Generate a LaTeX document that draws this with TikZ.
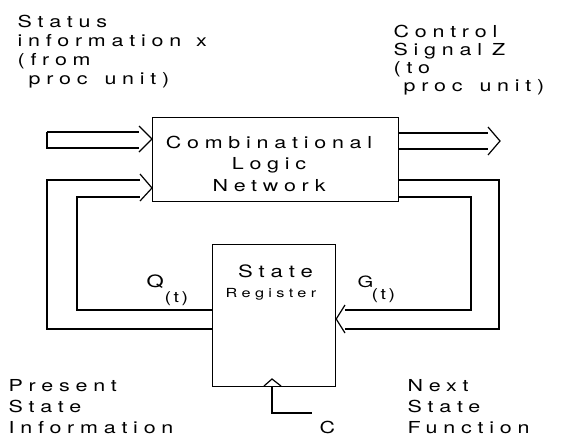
\documentclass[tikz,border=0pt]{standalone}
\usepackage{fontspec}
\usepackage{tikz}
\usetikzlibrary{calc,positioning}
\newfontfamily\plotfont[LetterSpace=35,FakeStretch=1.3]{TeX Gyre Heros}
\newcommand\wsp{\hspace{17pt}}

\begin{document}
\begin{tikzpicture}[x=1pt,y=-1pt,line width=1.2pt,
    block/.style={draw,anchor=north west,inner sep=0pt},
    txt/.style={inner sep=0pt,anchor=base west},
    toplbl/.style={anchor=north west,align=left,inner sep=0pt,
      font=\plotfont\fontsize{16.5}{19}\selectfont},
    botlbl/.style={anchor=north west,align=left,inner sep=0pt,
      font=\plotfont\fontsize{16.5}{21}\selectfont},
    big/.style={font=\plotfont\fontsize{16.5}{21.5}\selectfont}]
    \useasboundingbox (0,0) rectangle (570,437);
    % boxes
    \node[block,minimum width=246pt,minimum height=84pt] (cln) at (152,117) {};
    \node[big,inner sep=0pt,align=center,anchor=north] (clntext) at (269,135.5) {Combinational\\Logic\\Network};
    \node[block,minimum width=123pt,minimum height=142pt] (sr) at (212,244) {};
    \node[txt,anchor=base,font=\plotfont\fontsize{17}{18}\selectfont] (srname) at (275.5,277) {State};
    \node[txt,anchor=base,font=\plotfont\fontsize{12.5}{14}\selectfont] (srreg) at (271,297) {Register};
    % free ends of the connectors
    \coordinate (statin) at (47,132);
    \coordinate (ctrlout) at (500,141);
    \coordinate (qout) at (47,180);
    \coordinate (qin) at (77,197);
    \coordinate (gout) at (499,180);
    \coordinate (gin) at (471,197);
    % status information in
    \draw (statin) -- (139,132) (statin) -- (47,148) -- (139,148);
    \draw (139,126) -- (cln.west |- 0,139) -- (139,152);
    % control signal out
    \draw (cln.east |- 0,133) -- (488,133) (cln.east |- 0,149) -- (488,149);
    \draw (488,127) -- (ctrlout) -- (488,155);
    % present state loop
    \draw (sr.west |- 0,329) -- (47,329) -- (qout) -- (140,180);
    \draw (sr.west |- 0,310) -- (77,310) -- (qin) -- (140,197);
    \draw (140,174) -- (cln.west |- 0,188) -- (140,201);
    % next state loop
    \draw (cln.east |- 0,180) -- (gout) -- (499,329) -- (345,329);
    \draw (cln.east |- 0,197) -- (gin) -- (471,310) -- (345,310);
    \draw (345,305) -- (sr.east |- 0,319) -- (345,333);
    % clock
    \draw (264,386) -- (272,379) -- (281,386);
    \coordinate (clk) at (312,413);
    \draw (272,386) |- (clk);
    % labels
    \node[txt,big] (clkname) at (319,433.5) {C};
    \node[txt,font=\plotfont\fontsize{17}{20}\selectfont] (qname) at (146,287) {Q};
    \node[txt,font=\plotfont\fontsize{15}{16}\selectfont] (qsub) at (164,302) {(\,t\,)};
    \node[txt,font=\plotfont\fontsize{15.5}{20}\selectfont] (gname) at (357,287) {G};
    \node[txt,font=\plotfont\fontsize{15}{16}\selectfont] (gsub) at (371,299) {(\,t\,)};
    \node[toplbl] (status) at (17,14.8) {Status\\information\hspace{15pt}x\\(from\\\hspace{11pt}proc\wsp unit)};
    \node[toplbl] (control) at (393,24.8) {Control\\[-1pt]Signal\hspace{10pt}Z\\[-1pt](to\\[-1pt]\hspace{10pt}proc\wsp unit)};
    \node[botlbl] (present) at (8,379) {Present\\State\\Information};
    \node[botlbl] (next) at (407,379) {Next\\State\\Function};
\end{tikzpicture}
\end{document}
